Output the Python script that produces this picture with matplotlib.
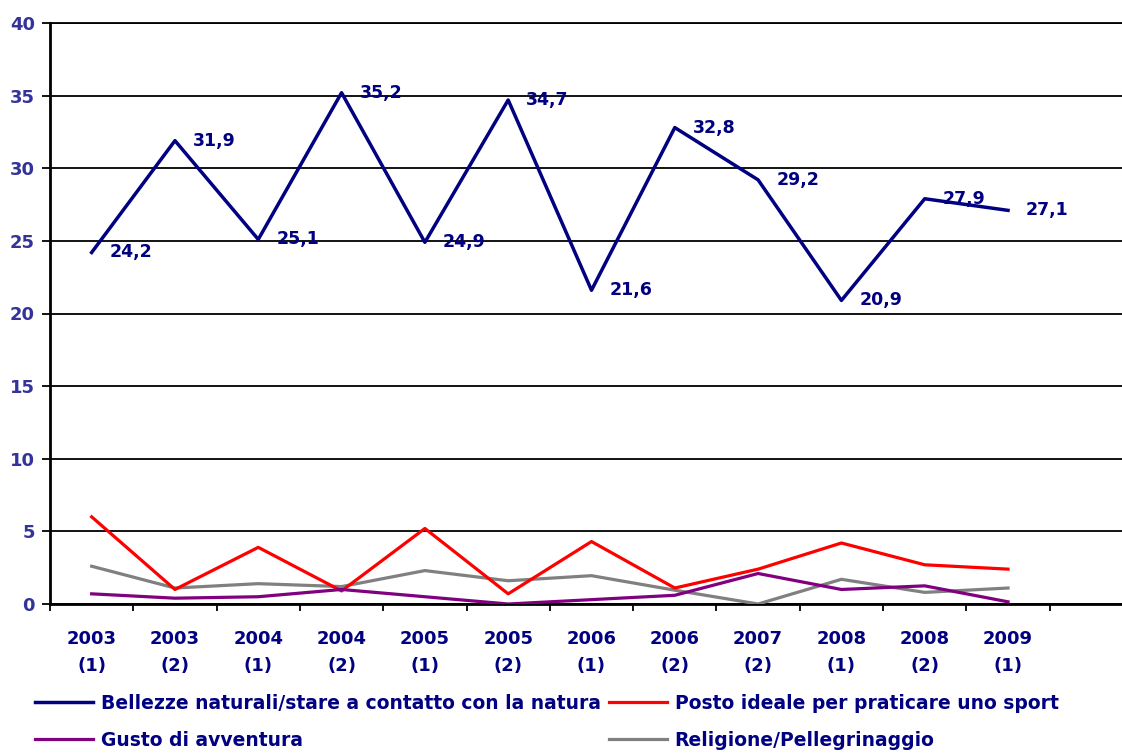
import numpy as np
import matplotlib.pyplot as plt

plt.rcParams['font.family'] = ['DejaVu Sans']

periodi = ['2003\n(1)', '2003\n(2)', '2004\n(1)', '2004\n(2)', '2005\n(1)', '2005\n(2)',
           '2006\n(1)', '2006\n(2)', '2007\n(2)', '2008\n(1)', '2008\n(2)', '2009\n(1)']

natura = [24.2, 31.9, 25.1, 35.2, 24.9, 34.7, 21.6, 32.8, 29.2, 20.9, 27.9, 27.1]
sport = [6.0, 1.0, 3.9, 0.9, 5.2, 0.7, 4.3, 1.1, 2.4, 4.2, 2.7, 2.4]
avventura = [0.7, 0.4, 0.5, 1.0, 0.5, 0.0, 0.3, 0.6, 2.1, 1.0, 1.25, 0.15]
religione = [2.6, 1.1, 1.4, 1.2, 2.3, 1.6, 1.95, 0.95, 0.0, 1.7, 0.8, 1.1]

nomi = ['Bellezze naturali/stare a contatto con la natura',
        'Posto ideale per praticare uno sport',
        'Gusto di avventura',
        'Religione/Pellegrinaggio']

navy = '#000080'
x = np.arange(len(periodi))

fig = plt.figure(figsize=(11.22, 7.53), dpi=100)
ax = fig.add_axes([50/1122, 1-604/753, 1083/1122, 581/753])

l1, = ax.plot(x, natura, color=navy, lw=2.5, zorder=5)
l2, = ax.plot(x, sport, color='#FF0000', lw=2.3, zorder=4)
l3, = ax.plot(x, avventura, color='#800080', lw=2.3, zorder=4)
l4, = ax.plot(x, religione, color='#808080', lw=2.3, zorder=3)

# etichette dei valori (virgola decimale)
for xi, v in zip(x, natura):
    ax.annotate(f'{v:.1f}'.replace('.', ','), (xi, v), xytext=(13, 0),
                textcoords='offset points', ha='left', va='center',
                fontsize=12.5, fontweight='bold', color=navy, zorder=6)

ax.set_xlim(-0.5, 12.5)
ax.set_ylim(0, 40)
ax.set_yticks(np.arange(0, 41, 5))
ax.yaxis.grid(True, color='black', lw=1.3)
ax.set_axisbelow(True)

ax.set_xticks(x)
ax.set_xticklabels(periodi, fontsize=13, fontweight='bold', color=navy, linespacing=1.62)
ax.set_xticks(np.arange(-0.5, 13, 1), minor=True)
ax.tick_params(axis='x', which='major', length=0, pad=19)
ax.tick_params(axis='x', which='minor', length=5, width=1.3, direction='out')
ax.tick_params(axis='y', length=6, width=1.3, direction='out', pad=5)
for lab in ax.get_yticklabels():
    lab.set_fontsize(13)
    lab.set_fontweight('bold')
    lab.set_color('#333399')

for s in ['left', 'bottom']:
    ax.spines[s].set_linewidth(2.0)
ax.spines['top'].set_linewidth(1.3)
ax.spines['right'].set_visible(False)

leg_kw = dict(frameon=False, handlelength=3.1, handletextpad=0.4, labelspacing=0.95,
              borderpad=0, prop={'size': 13.5, 'weight': 'bold'}, labelcolor=navy,
              borderaxespad=0)
fig.legend([l1, l3], [nomi[0], nomi[2]], loc='upper left',
           bbox_to_anchor=(35/1122, 1-694/753), **leg_kw)
fig.legend([l2, l4], [nomi[1], nomi[3]], loc='upper left',
           bbox_to_anchor=(609/1122, 1-694/753), **leg_kw)

fig.savefig('out.png', dpi=100)
